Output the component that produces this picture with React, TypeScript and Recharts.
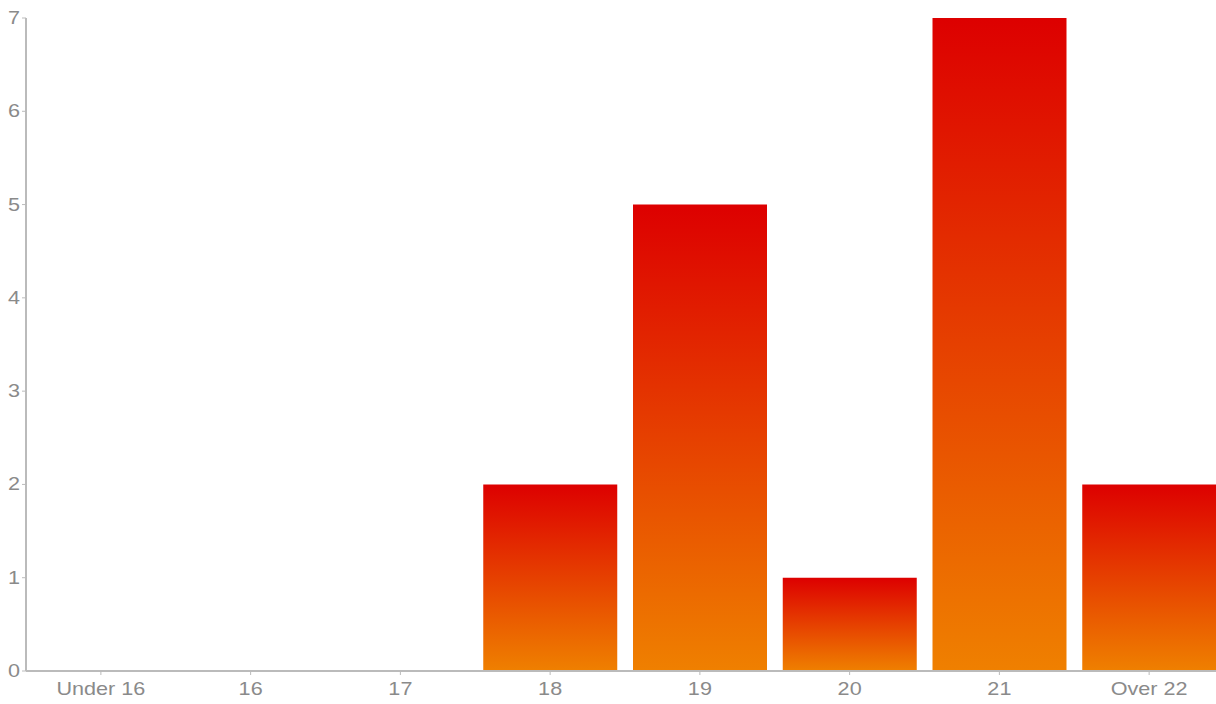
import React from "react";
import { BarChart, Bar, XAxis, YAxis } from "recharts";

const categories = ["Under 16", "16", "17", "18", "19", "20", "21", "Over 22"];
const counts = [0, 0, 0, 2, 5, 1, 7, 2];
const yTicks = [0, 1, 2, 3, 4, 5, 6, 7];

const data = categories.map((c, i) => ({ name: c, value: counts[i] }));

const XTick = (props: any) => {
  const { x, y, payload } = props;
  return (
    <g transform={`translate(${x},${y})`}>
      <text
        x={0}
        y={0}
        dy={18}
        textAnchor="middle"
        fill="#8a8a8a"
        fontSize={18}
        fontFamily="Liberation Sans, Arial, sans-serif"
        transform="scale(1.2,1)"
      >
        {payload.value}
      </text>
    </g>
  );
};

const YTick = (props: any) => {
  const { x, y, payload } = props;
  return (
    <g transform={`translate(${x},${y})`}>
      <text
        x={0}
        y={0}
        dy={6}
        textAnchor="end"
        fill="#8a8a8a"
        fontSize={18}
        fontFamily="Liberation Sans, Arial, sans-serif"
        transform="scale(1.2,1)"
      >
        {payload.value}
      </text>
    </g>
  );
};

export default function App() {
  return (
    <div
      style={{
        position: "absolute",
        left: 0,
        top: 0,
        width: 1216,
        height: 704,
        overflow: "hidden",
        background: "#fff",
      }}
    >
      <BarChart
        width={1224}
        height={704}
        data={data}
        margin={{ top: 18, right: 0, bottom: 0, left: 0 }}
        barCategoryGap={8}
      >
        <defs>
          <linearGradient id="barGrad" x1="0" y1="0" x2="0" y2="1">
            <stop offset="0%" stopColor="#dd0000" />
            <stop offset="100%" stopColor="#ef8000" />
          </linearGradient>
        </defs>
        <XAxis
          dataKey="name"
          height={33}
          tick={<XTick />}
          tickLine={{ stroke: "#bbbbbb" }}
          tickSize={4}
          axisLine={{ stroke: "#bbbbbb", strokeWidth: 2 }}
          interval={0}
        />
        <YAxis
          width={26}
          domain={[0, 7]}
          ticks={yTicks}
          tick={<YTick />}
          tickLine={{ stroke: "#bbbbbb" }}
          tickSize={4}
          axisLine={{ stroke: "#bbbbbb", strokeWidth: 2 }}
          interval={0}
        />
        <Bar dataKey="value" fill="url(#barGrad)" barSize={134} isAnimationActive={false} />
      </BarChart>
    </div>
  );
}
